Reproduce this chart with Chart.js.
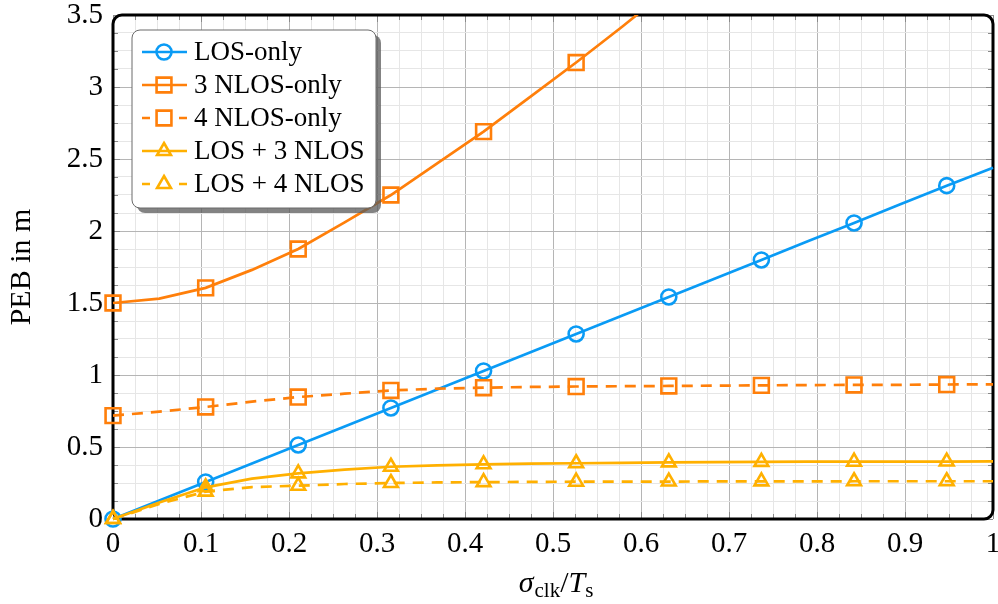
<!DOCTYPE html>
<html>
<head>
<meta charset="utf-8">
<script src="https://cdn.jsdelivr.net/npm/chart.js@4.4.1/dist/chart.umd.min.js"></script>
<style>
  html, body { margin: 0; padding: 0; background: #ffffff; }
  #wrap { width: 998px; height: 604px; }
</style>
</head>
<body>
<div id="wrap"><canvas id="peb" width="998" height="604"></canvas></div>
<script>
// Normalised clock noise sigma_clk / T_s (sample positions)
const sigmaRatio = [0, 0.0526, 0.1053, 0.1579, 0.2105, 0.2632, 0.3158, 0.3684, 0.4211, 0.4737,
                    0.5263, 0.5789, 0.6316, 0.6842, 0.7368, 0.7895, 0.8421, 0.8947, 0.9474, 1];

// Position error bound in metres for each configuration
const losOnly   = [0, 0.128, 0.257, 0.385, 0.514, 0.642, 0.771, 0.899, 1.028, 1.156,
                   1.285, 1.413, 1.542, 1.670, 1.799, 1.928, 2.056, 2.185, 2.315, 2.440];
const nlos3Only = [1.50, 1.53, 1.605, 1.73, 1.875, 2.06, 2.25, 2.47, 2.69, 2.93,
                   3.17, 3.42, 3.68, 3.95, 4.22, 4.50, 4.78, 5.06, 5.34, 5.62];
const nlos4Only = [0.718, 0.745, 0.778, 0.815, 0.847, 0.870, 0.893, 0.905, 0.912, 0.917,
                   0.920, 0.922, 0.924, 0.926, 0.928, 0.930, 0.931, 0.932, 0.934, 0.935];
const losNlos3  = [0, 0.115, 0.220, 0.280, 0.317, 0.343, 0.363, 0.373, 0.380, 0.384,
                   0.387, 0.390, 0.393, 0.395, 0.397, 0.398, 0.398, 0.399, 0.399, 0.400];
const losNlos4  = [0, 0.105, 0.190, 0.222, 0.231, 0.243, 0.250, 0.254, 0.256, 0.258,
                   0.259, 0.260, 0.260, 0.261, 0.261, 0.261, 0.262, 0.262, 0.262, 0.262];

const seriesNames = ['LOS-only', '3 NLOS-only', '4 NLOS-only', 'LOS + 3 NLOS', 'LOS + 4 NLOS'];

// Tick labels (shown on every fourth tick; the others are minor ticks)
const xTickLabels = ['0', '0.1', '0.2', '0.3', '0.4', '0.5', '0.6', '0.7', '0.8', '0.9', '1'];
const yTickLabels = ['0', '0.5', '1', '1.5', '2', '2.5', '3', '3.5'];

const SERIF = '"Liberation Serif", "DejaVu Serif", serif';
const BLUE = '#0a9bf5';
const ORANGE = '#ff7f0a';
const AMBER = '#ffb000';
const DASH = [11, 8];

const markerSize = { circle: 7.5, rect: 10.5, triangle: 8 };

function toPoints(values) {
  return values.map((v, i) => ({ x: sigmaRatio[i], y: v }));
}

function makeSet(label, values, color, style, dashed, order, clip) {
  return {
    label: label,
    data: toPoints(values),
    borderColor: color,
    backgroundColor: color,
    borderWidth: 2.7,
    borderDash: dashed ? DASH : [],
    tension: 0,
    pointStyle: style,
    pointRadius: (c) => (c.dataIndex % 2 === 0 ? markerSize[style] : 0),
    pointHoverRadius: (c) => (c.dataIndex % 2 === 0 ? markerSize[style] : 0),
    pointBorderWidth: 2.6,
    pointBorderColor: color,
    pointBackgroundColor: 'rgba(0,0,0,0)',
    order: order,
    clip: clip
  };
}

function roundRectPath(ctx, x, y, w, h, r) {
  ctx.beginPath();
  ctx.moveTo(x + r, y);
  ctx.lineTo(x + w - r, y);
  ctx.arcTo(x + w, y, x + w, y + r, r);
  ctx.lineTo(x + w, y + h - r);
  ctx.arcTo(x + w, y + h, x + w - r, y + h, r);
  ctx.lineTo(x + r, y + h);
  ctx.arcTo(x, y + h, x, y + h - r, r);
  ctx.lineTo(x, y + r);
  ctx.arcTo(x, y, x + r, y, r);
  ctx.closePath();
}

function drawMarker(ctx, style, x, y, color) {
  const r = markerSize[style];
  ctx.save();
  ctx.strokeStyle = color;
  ctx.lineWidth = 2.6;
  ctx.setLineDash([]);
  ctx.beginPath();
  if (style === 'circle') {
    ctx.arc(x, y, r, 0, Math.PI * 2);
  } else if (style === 'rect') {
    const s = Math.SQRT1_2 * r;
    ctx.rect(x - s, y - s, 2 * s, 2 * s);
  } else {
    for (let k = 0; k < 3; k++) {
      const a = k * 2 * Math.PI / 3;
      const px = x + Math.sin(a) * r, py = y - Math.cos(a) * r;
      if (k === 0) ctx.moveTo(px, py); else ctx.lineTo(px, py);
    }
    ctx.closePath();
  }
  ctx.stroke();
  ctx.restore();
}

// Inward tick marks on all four sides, the rounded axis frame and the x tick labels
const framePlugin = {
  id: 'frame',
  beforeDatasetsDraw(chart) {
    const ctx = chart.ctx, a = chart.chartArea;
    const xs = chart.scales.x, ys = chart.scales.y;
    ctx.save();
    ctx.strokeStyle = '#8a8a8a';
    ctx.lineWidth = 1;
    ctx.beginPath();
    xs.ticks.forEach((t, i) => {
      const px = Math.round(xs.getPixelForValue(t.value)) + 0.5;
      const len = i % 4 === 0 ? 7 : 5;
      ctx.moveTo(px, a.bottom); ctx.lineTo(px, a.bottom - len);
      ctx.moveTo(px, a.top); ctx.lineTo(px, a.top + len);
    });
    ys.ticks.forEach((t, i) => {
      const py = Math.round(ys.getPixelForValue(t.value)) + 0.5;
      const len = i % 4 === 0 ? 7 : 5;
      ctx.moveTo(a.left, py); ctx.lineTo(a.left + len, py);
      ctx.moveTo(a.right, py); ctx.lineTo(a.right - len, py);
    });
    ctx.stroke();
    ctx.strokeStyle = '#000000';
    ctx.lineWidth = 3;
    roundRectPath(ctx, a.left, a.top, a.right - a.left, a.bottom - a.top, 9);
    ctx.stroke();

    ctx.fillStyle = '#000000';
    ctx.font = '29px ' + SERIF;
    ctx.textAlign = 'center';
    ctx.textBaseline = 'alphabetic';
    xs.ticks.forEach((t, i) => {
      if (i % 4 !== 0) return;
      ctx.fillText(xTickLabels[i / 4], xs.getPixelForValue(t.value), a.bottom + 33);
    });
    ctx.restore();
  }
};

// Framed legend with drop shadow in the upper left of the plot
const legendPlugin = {
  id: 'boxLegend',
  afterDatasetsDraw(chart) {
    const ctx = chart.ctx, a = chart.chartArea;
    const x = a.left + 19, y = a.top + 15, w = 244, h = 178;
    ctx.save();
    ctx.fillStyle = 'rgba(90,90,90,0.75)';
    roundRectPath(ctx, x + 5, y + 5, w, h, 8);
    ctx.fill();
    ctx.fillStyle = '#ffffff';
    roundRectPath(ctx, x, y, w, h, 8);
    ctx.fill();
    ctx.strokeStyle = '#6a6a6a';
    ctx.lineWidth = 1;
    ctx.stroke();
    chart.data.datasets.forEach((ds, i) => {
      const cy = y + 22 + i * 33;
      const x0 = x + 10, x1 = x + 55, xm = x + 32;
      ctx.strokeStyle = ds.borderColor;
      ctx.lineWidth = ds.borderWidth;
      ctx.beginPath();
      if (ds.borderDash.length) {
        ctx.moveTo(x0, cy); ctx.lineTo(x0 + 8, cy);
        ctx.moveTo(x1 - 8, cy); ctx.lineTo(x1, cy);
      } else {
        ctx.moveTo(x0, cy); ctx.lineTo(x1, cy);
      }
      ctx.stroke();
      drawMarker(ctx, ds.pointStyle, xm, cy, ds.borderColor);
      ctx.fillStyle = '#000000';
      ctx.font = '27px ' + SERIF;
      ctx.textBaseline = 'middle';
      ctx.textAlign = 'left';
      ctx.fillText(ds.label, x + 62, cy + 1);
    });
    ctx.restore();
  }
};

// x-axis title sigma_clk / T_s with subscripts
const xTitlePlugin = {
  id: 'xTitle',
  afterDraw(chart) {
    const ctx = chart.ctx, a = chart.chartArea;
    const parts = [
      { t: '\u03C3', f: 'italic 30px ' + SERIF, dy: 0, gap: 0 },
      { t: 'clk', f: '21px ' + SERIF, dy: 5, gap: 1 },
      { t: '/', f: '30px ' + SERIF, dy: 0, gap: 0 },
      { t: 'T', f: 'italic 30px ' + SERIF, dy: 0, gap: 0 },
      { t: 's', f: '21px ' + SERIF, dy: 5, gap: 0 }
    ];
    ctx.save();
    ctx.fillStyle = '#000000';
    ctx.textBaseline = 'alphabetic';
    ctx.textAlign = 'left';
    let total = 0;
    parts.forEach(p => { ctx.font = p.f; p.w = ctx.measureText(p.t).width; total += p.w + p.gap; });
    let cx = (a.left + a.right) / 2 + 3 - total / 2;
    const base = 592;
    parts.forEach(p => {
      ctx.font = p.f;
      ctx.fillText(p.t, cx + p.gap, base + p.dy);
      cx += p.w + p.gap;
    });
    ctx.restore();
  }
};

const gridColor = (c) => (c.index % 4 === 0 ? '#b5b5b5' : '#e6e6e6');

new Chart(document.getElementById('peb'), {
  type: 'line',
  data: {
    datasets: [
      makeSet(seriesNames[0], losOnly, BLUE, 'circle', false, 5, false),
      makeSet(seriesNames[1], nlos3Only, ORANGE, 'rect', false, 4, { left: 20, right: 0, top: 0, bottom: 20 }),
      makeSet(seriesNames[2], nlos4Only, ORANGE, 'rect', true, 3, false),
      makeSet(seriesNames[3], losNlos3, AMBER, 'triangle', false, 2, false),
      makeSet(seriesNames[4], losNlos4, AMBER, 'triangle', true, 1, false)
    ]
  },
  options: {
    responsive: false,
    animation: false,
    events: [],
    devicePixelRatio: 1,
    layout: { autoPadding: false, padding: { left: 0, right: 5, top: 15, bottom: 0 } },
    plugins: {
      legend: { display: false },
      tooltip: { enabled: false }
    },
    scales: {
      x: {
        type: 'linear',
        min: 0,
        max: 1,
        afterFit: (s) => { s.height = 85; s.paddingLeft = 0; s.paddingRight = 0; },
        border: { display: false },
        grid: { color: gridColor, lineWidth: 1, drawTicks: false },
        ticks: {
          display: false,
          stepSize: 0.025,
          autoSkip: false,
          maxRotation: 0
        }
      },
      y: {
        type: 'linear',
        min: 0,
        max: 3.5,
        afterFit: (s) => { s.width = 113; s.paddingTop = 0; s.paddingBottom = 0; },
        border: { display: false },
        grid: { color: gridColor, lineWidth: 1, drawTicks: false },
        ticks: {
          stepSize: 0.125,
          autoSkip: false,
          padding: 10,
          color: '#000000',
          font: { family: SERIF, size: 29 },
          callback: (v, i) => (i % 4 === 0 ? yTickLabels[i / 4] : '')
        },
        title: {
          display: true,
          text: 'PEB in m',
          color: '#000000',
          font: { family: SERIF, size: 30 },
          padding: { top: 4, bottom: 0 }
        }
      }
    }
  },
  plugins: [framePlugin, legendPlugin, xTitlePlugin]
});
</script>
</body>
</html>
